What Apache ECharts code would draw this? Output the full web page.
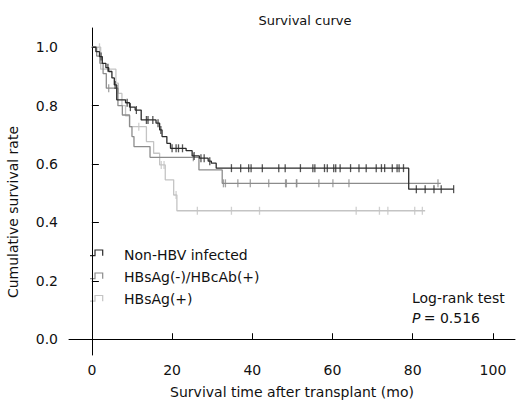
<!DOCTYPE html>
<html><head><meta charset="utf-8">
<script src="https://cdn.jsdelivr.net/npm/echarts@6/dist/echarts.min.js"></script>
<style>html,body{margin:0;padding:0;background:#fff}#c{width:527px;height:406px}</style>
</head><body><div id="c"></div>
<script>
const groupNames = ['Non-HBV infected', 'HBsAg(-)/HBcAb(+)', 'HBsAg(+)'];
const xTicks = [0, 20, 40, 60, 80, 100];
const yTicks = [0, 0.2, 0.4, 0.6, 0.8, 1.0];

// Kaplan-Meier steps: [time (mo), survival after event]
const nonHbvSteps = [[0,1.0],[1.0,0.985],[1.9,0.968],[2.6,0.945],[3.5,0.93],[4.2,0.917],[5.0,0.895],[5.6,0.871],[6.2,0.82],[8.4,0.81],[9.4,0.795],[10.8,0.785],[12.3,0.751],[16.0,0.74],[16.9,0.717],[17.5,0.694],[18.7,0.671],[19.6,0.654],[23.5,0.646],[25.0,0.628],[26.8,0.62],[29.0,0.61],[29.8,0.603],[31.0,0.586],[79.0,0.514],[90.2,0.514]];
const nonHbvCensor = [2.3,4.0,5.8,8.8,9.6,11.1,13.6,14.0,15.2,16.5,17.2,20.0,21.0,21.6,22.6,25.5,27.2,28.0,29.4,34.8,37.1,39.1,39.7,42.5,46.6,48.2,52.0,55.1,55.6,58.0,58.7,60.3,60.8,61.9,64.5,66.6,68.4,70.9,72.2,73.0,74.9,76.1,76.6,77.7,80.9,83.1,85.3,87.1,90.2];

const coreSteps = [[0,1.0],[1.2,0.97],[2.0,0.945],[2.8,0.91],[3.6,0.86],[6.5,0.80],[7.6,0.768],[9.4,0.728],[10.0,0.694],[10.5,0.66],[14.5,0.623],[26.7,0.58],[32.5,0.534],[87.0,0.534]];
const coreCensor = [4.2,25.3,32.8,33.3,36.4,39.5,44.1,48.3,48.5,51.0,51.1,56.6,60.1,64.1,86.3];

const hbsAgSteps = [[0,1.0],[2.2,0.925],[6.0,0.877],[6.6,0.842],[7.5,0.80],[8.4,0.765],[9.4,0.728],[13.6,0.677],[15.4,0.637],[16.9,0.597],[18.3,0.546],[20.4,0.494],[21.2,0.44],[83.1,0.44]];
const hbsAgCensor = [1.9,11.7,17.3,18.0,21.0,26.3,34.8,41.8,65.9,71.7,73.8,80.5,82.4];

const colors = ['#2b2b2b', '#8c8c8c', '#c4c4c4'];
const FONT = 'DejaVu Sans';

function survAt(steps, t) {
  let s = steps[0][1];
  for (const [tt, v] of steps) { if (tt <= t) s = v; else break; }
  return s;
}
const stepsList = [nonHbvSteps, coreSteps, hbsAgSteps];
const censorList = [nonHbvCensor, coreCensor, hbsAgCensor];

const series = [];
groupNames.forEach((name, i) => {
  series.push({
    name, type: 'line', step: 'end', data: stepsList[i],
    symbol: 'none', z: 3 - i,
    lineStyle: { color: colors[i], width: 1.3 },
    itemStyle: { color: colors[i] }
  });
});
groupNames.forEach((name, i) => {
  series.push({
    name: name + ' censored', type: 'scatter',
    data: censorList[i].map(t => [t, survAt(stepsList[i], t)]),
    symbol: 'rect', symbolSize: [1.3, 8], z: 3 - i,
    itemStyle: { color: colors[i] }, silent: true
  });
});

// legend step icons (decoration next to the real legend text)
const legendRowY = [253, 276, 298.5];
const iconGraphics = legendRowY.map((cy, i) => ({
  type: 'polyline', silent: true,
  shape: { points: [[90, cy + 2.7], [95, cy + 2.7], [95, cy - 3], [102.7, cy - 3], [102.7, cy + 2.7]] },
  style: { stroke: colors[i], lineWidth: 1.2, fill: null }
}));

const chart = echarts.init(document.getElementById('c'), null, { renderer: 'svg' });
chart.setOption({
  animation: false,
  backgroundColor: '#fff',
  title: { text: 'Survival curve', left: 300, top: 9, textAlign: 'center',
    textStyle: { fontFamily: FONT, fontSize: 13, fontWeight: 'normal', color: '#111' } },
  grid: { left: 69, right: 12, top: 28, bottom: 51 },
  xAxis: {
    type: 'value', min: -5.7, max: 105.5,
    name: 'Survival time after transplant (mo)', nameLocation: 'middle', nameGap: 30,
    nameTextStyle: { fontFamily: FONT, fontSize: 14, color: '#111' },
    axisLine: { show: true, lineStyle: { color: '#000', width: 1 } },
    axisTick: { show: true, inside: true, length: 6, customValues: xTicks, lineStyle: { color: '#000' } },
    axisLabel: { customValues: xTicks, margin: 8, fontFamily: FONT, fontSize: 14, color: '#111' },
    splitLine: { show: false }
  },
  yAxis: {
    type: 'value', min: -0.054, max: 1.066,
    axisLine: { show: true, lineStyle: { color: '#000', width: 1 } },
    axisTick: { show: true, inside: true, length: 7, customValues: yTicks, lineStyle: { color: '#000' } },
    axisLabel: { customValues: yTicks, margin: 11, fontFamily: FONT, fontSize: 14, color: '#111',
      formatter: v => v.toFixed(1) },
    splitLine: { show: false }
  },
  legend: {
    data: groupNames, orient: 'vertical', left: 89, top: 243, itemGap: 8,
    itemWidth: 13, itemHeight: 6, icon: 'rect', itemStyle: { opacity: 0 },
    selectedMode: false,
    textStyle: { fontFamily: FONT, fontSize: 14, color: '#111', padding: [0, 0, 0, 12] }
  },
  graphic: [
    ...iconGraphics,
    { type: 'text', x: 13, y: 212, rotation: Math.PI / 2, style: { text: 'Cumulative survival rate', font: '14px "DejaVu Sans"', fill: '#111', align: 'center', verticalAlign: 'middle' } },
    { type: 'text', left: 412, top: 291, style: { text: 'Log-rank test', font: '14px "DejaVu Sans"', fill: '#111' } },
    { type: 'text', left: 412, top: 311, style: { rich: { i: { fontStyle: 'italic', fontFamily: FONT, fontSize: 14 }, n: { fontFamily: FONT, fontSize: 14 } }, text: '{i|P} {n|= 0.516}', fill: '#111' } }
  ],
  series
});
</script></body></html>
